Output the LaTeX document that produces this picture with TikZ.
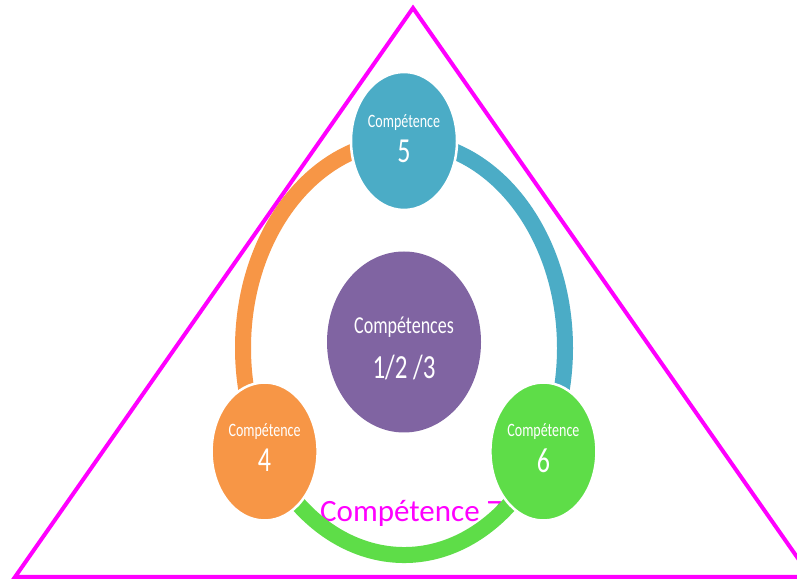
\documentclass[tikz,border=0pt]{standalone}
\usepackage{fontspec}
\setmainfont{Carlito}
\usetikzlibrary{shapes.geometric}
\definecolor{cblue}{HTML}{4BACC6}
\definecolor{corange}{HTML}{F79646}
\definecolor{cgreen}{HTML}{5EDD48}
\definecolor{cpurple}{HTML}{8064A2}
\definecolor{cmagenta}{HTML}{FF00FF}
\newcommand{\tall}[1]{\scalebox{1}[1.35]{#1}}
\tikzset{
  x=1pt, y=1pt,
  ringarc/.style={line width=16pt},
  skill/.style={ellipse, draw=white, line width=2.5pt, inner sep=0pt,
    minimum width=106pt, minimum height=138pt, text=white, align=center},
  core/.style={ellipse, fill=cpurple, inner sep=0pt,
    minimum width=154pt, minimum height=181pt, text=white, align=center},
  frame/.style={draw=cmagenta, line width=4pt, line join=miter},
  small/.style={text=white, inner sep=0pt, font=\fontsize{14}{14}\selectfont},
  big/.style={text=white, inner sep=0pt, font=\fontsize{26}{26}\selectfont},
}
\begin{document}
\begin{tikzpicture}
\useasboundingbox (0,0) rectangle (797,580);
\clip (0,0) rectangle (797,580);
\fill[white] (0,0) rectangle (797,580);

% outer triangle
\draw[frame] (15,3) -- (413,572) -- (811,3) -- cycle;

% centre of the ring
\coordinate (rc) at (404,232);

% label of skill 7, partly hidden by the bottom arc
\node[anchor=base west, inner sep=0pt, text=cmagenta, font=\fontsize{31}{31}\selectfont]
  (lab7) at (320,58) {Compétence 7};

% skill positions on the ring (x radius 161, y radius 207)
\path (rc) ++(90:161 and 207) coordinate (p5);
\path (rc) ++(210:161 and 207) coordinate (p4);
\path (rc) ++(330:161 and 207) coordinate (p6);

% ring arcs between the skills
\draw[ringarc, corange] (p5) arc[start angle=90, end angle=210, x radius=161, y radius=207];
\draw[ringarc, cblue] (p5) arc[start angle=90, end angle=-30, x radius=161, y radius=207];
\draw[ringarc, cgreen] (p4) arc[start angle=210, end angle=330, x radius=161, y radius=207];

% skills
\node[skill, fill=cblue] (n5) at (p5) {};
\node[skill, fill=corange] (n4) at (p4) {};
\node[skill, fill=cgreen] (n6) at (p6) {};

\node[small] (t5a) at ([yshift=18]n5.center) {\tall{Compétence}};
\node[big] (t5b) at ([yshift=-10]n5.center) {\tall{5}};
\node[small] (t4a) at ([yshift=20]n4.center) {\tall{Compétence}};
\node[big] (t4b) at ([yshift=-9]n4.center) {\tall{4}};
\node[small] (t6a) at ([yshift=20]n6.center) {\tall{Compétence}};
\node[big] (t6b) at ([yshift=-9]n6.center) {\tall{6}};

% central node
\node[core] (n0) at (404,238) {};
\node[text=white, font=\fontsize{18}{18}\selectfont, inner sep=0pt] (t0a) at ([yshift=15]n0.center) {\tall{Compétences}};
\node[text=white, font=\fontsize{25}{25}\selectfont, inner sep=0pt] (t0b) at ([yshift=-26]n0.center) {\tall{1/2 /3}};
\end{tikzpicture}
\end{document}
